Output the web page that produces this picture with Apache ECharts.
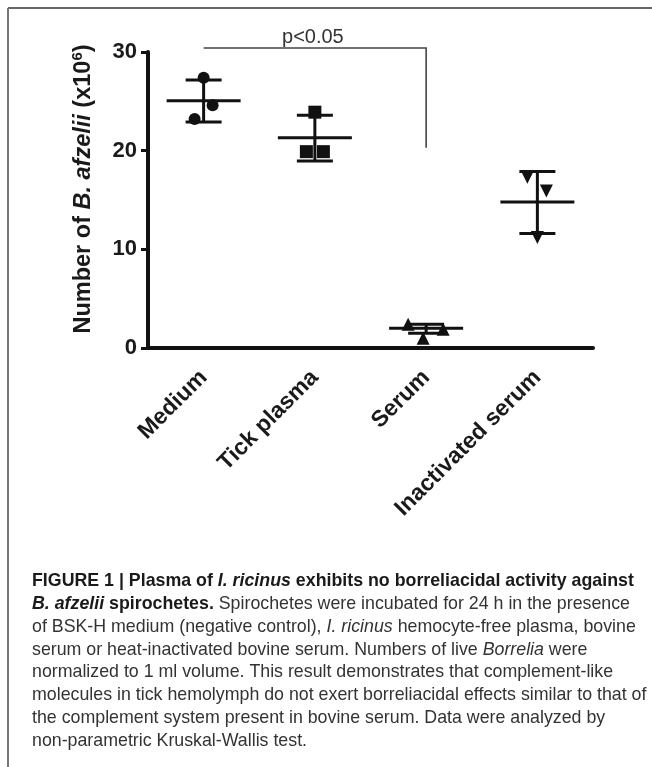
<!DOCTYPE html>
<html>
<head>
<meta charset="utf-8">
<script src="https://cdn.jsdelivr.net/npm/echarts@6/dist/echarts.min.js"></script>
<style>
html,body{margin:0;padding:0;background:#fff;}
#chart{width:652px;height:767px;}
</style>
</head>
<body>
<div id="chart"></div>
<script>
// ---- data ----
const categories = ['Medium', 'Tick plasma', 'Serum', 'Inactivated serum'];
const mediumValues = [27.4, 24.6, 23.2];
const tickPlasmaValues = [23.9, 19.9, 19.9];
const serumValues = [2.4, 1.9, 1.0];
const inactivatedValues = [17.3, 15.9, 11.2];
const groupMeans = [25.05, 21.3, 2.0, 14.8];
const groupLower = [22.9, 18.95, 1.5, 11.6];
const groupUpper = [27.15, 23.6, 2.4, 17.9];
const yTickValues = [0, 10, 20, 30];
const bracketFrom = 0, bracketTo = 2;
const bracketTop = 30.4, bracketEnd = 20.3, bracketLabelY = 31.5;
const pLabel = 'p<0.05';

// ---- layout / style ----
const FONT = "'Liberation Sans', Arial, Helvetica, sans-serif";
const jitterPx = [[0, 9, -9], [0, -8.5, 8.5], [-18, 17, -3], [-10, 9, 0]];
const groupValues = [mediumValues, tickPlasmaValues, serumValues, inactivatedValues];
const symbols = [
  {symbol: 'circle', size: 12, rotate: 0},
  {symbol: 'rect', size: 13, rotate: 0},
  {symbol: 'triangle', size: 13, rotate: 0},
  {symbol: 'triangle', size: 13, rotate: 180}
];

const scatterSeries = groupValues.map((vals, g) => ({
  type: 'scatter',
  symbol: symbols[g].symbol,
  symbolSize: symbols[g].size,
  symbolRotate: symbols[g].rotate,
  itemStyle: {color: '#111', opacity: 1},
  z: 3,
  silent: true,
  data: vals.map((v, j) => ({value: [g, v], symbolOffset: [jitterPx[g][j], 0]}))
}));

const errorData = categories.map((c, i) => [i, groupMeans[i], groupLower[i], groupUpper[i]]);

const errorSeries = {
  type: 'custom',
  z: 4,
  silent: true,
  data: errorData,
  renderItem: function (params, api) {
    const x = api.value(0);
    const m = api.coord([x, api.value(1)]);
    const lo = api.coord([x, api.value(2)]);
    const hi = api.coord([x, api.value(3)]);
    const st = {stroke: '#111', lineWidth: 3};
    return {
      type: 'group',
      children: [
        {type: 'line', shape: {x1: lo[0], y1: lo[1], x2: hi[0], y2: hi[1]}, style: st},
        {type: 'line', shape: {x1: hi[0] - 18, y1: hi[1], x2: hi[0] + 18, y2: hi[1]}, style: st},
        {type: 'line', shape: {x1: lo[0] - 18, y1: lo[1], x2: lo[0] + 18, y2: lo[1]}, style: st},
        {type: 'line', shape: {x1: m[0] - 37, y1: m[1], x2: m[0] + 37, y2: m[1]}, style: st}
      ]
    };
  }
};

const bracketSeries = {
  type: 'custom',
  z: 2,
  silent: true,
  clip: false,
  data: [[bracketFrom, bracketTo, bracketTop, bracketEnd, bracketLabelY]],
  renderItem: function (params, api) {
    const a = api.coord([api.value(0), api.value(2)]);
    const b = api.coord([api.value(1), api.value(2)]);
    const c = api.coord([api.value(1), api.value(3)]);
    const t = api.coord([(api.value(0) + api.value(1)) / 2, api.value(4)]);
    return {
      type: 'group',
      children: [
        {type: 'polyline', shape: {points: [a, b, c]}, style: {stroke: '#444', lineWidth: 1.6, fill: 'none'}},
        {type: 'text', x: t[0] - 2, y: t[1], style: {text: pLabel, fill: '#333', font: '20px ' + FONT, align: 'center', verticalAlign: 'middle'}}
      ]
    };
  }
};

const captionLines = [
  '{b|FIGURE 1 | Plasma of }{bi|I. ricinus}{b| exhibits no borreliacidal activity against}',
  '{bi|B. afzelii}{b| spirochetes.}{r| Spirochetes were incubated for 24 h in the presence}',
  '{r|of BSK-H medium (negative control), }{i|I. ricinus}{r| hemocyte-free plasma, bovine}',
  '{r|serum or heat-inactivated bovine serum. Numbers of live }{i|Borrelia}{r| were}',
  '{r|normalized to 1 ml volume. This result demonstrates that complement-like}',
  '{r|molecules in tick hemolymph do not exert borreliacidal effects similar to that of}',
  '{r|the complement system present in bovine serum. Data were analyzed by}',
  '{r|non-parametric Kruskal-Wallis test.}'
];
const CAP = 17.8;
const capRich = {
  b: {fontFamily: FONT, fontSize: CAP, fontWeight: 'bold', fill: '#1a1a1a'},
  bi: {fontFamily: FONT, fontSize: CAP, fontWeight: 'bold', fontStyle: 'italic', fill: '#1a1a1a'},
  r: {fontFamily: FONT, fontSize: CAP, fill: '#333'},
  i: {fontFamily: FONT, fontSize: CAP, fontStyle: 'italic', fill: '#333'}
};
const captionGraphics = captionLines.map((ln, k) => ({
  type: 'text',
  left: 32,
  top: 572 + k * 22.9,
  style: {text: ln, rich: capRich, verticalAlign: 'top'}
}));

const chart = echarts.init(document.getElementById('chart'), null, {renderer: 'canvas'});
chart.setOption({
  backgroundColor: '#fff',
  animation: false,
  grid: {left: 148, right: 59, top: 52, bottom: 419, containLabel: false, outerBoundsMode: 'none'},
  xAxis: {
    type: 'category',
    data: categories,
    boundaryGap: true,
    axisLine: {show: true, lineStyle: {color: '#111', width: 4}},
    axisTick: {show: false},
    axisLabel: {rotate: 45, margin: 26, fontFamily: FONT, fontSize: 23, fontWeight: 'bold', color: '#1a1a1a', interval: 0},
    splitLine: {show: false}
  },
  yAxis: {
    type: 'value',
    min: yTickValues[0],
    max: yTickValues[yTickValues.length - 1],
    interval: yTickValues[1] - yTickValues[0],
    axisLine: {show: true, lineStyle: {color: '#111', width: 4}},
    axisTick: {show: true, length: 7, lineStyle: {color: '#111', width: 3}},
    axisLabel: {margin: 11, fontFamily: FONT, fontSize: 22, fontWeight: 'bold', color: '#1a1a1a'},
    splitLine: {show: false},
    name: '{b|Number of }{bi|B. afzelii}{b| (x10}{sup|6}{b|)}',
    nameLocation: 'middle',
    nameRotate: 90,
    nameGap: 50,
    nameTextStyle: {
      padding: [0, 0, 0, 22],
      rich: {
        b: {fontFamily: FONT, fontSize: 23.5, fontWeight: 'bold', color: '#1a1a1a', lineHeight: 28},
        bi: {fontFamily: FONT, fontSize: 23.5, fontWeight: 'bold', fontStyle: 'italic', color: '#1a1a1a', lineHeight: 28},
        sup: {fontFamily: FONT, fontSize: 15, fontWeight: 'bold', color: '#1a1a1a', verticalAlign: 'top', lineHeight: 15}
      }
    }
  },
  graphic: [
    {type: 'line', shape: {x1: 8, y1: 8, x2: 652, y2: 8}, style: {stroke: '#666', lineWidth: 2}},
    {type: 'line', shape: {x1: 8, y1: 8, x2: 8, y2: 767}, style: {stroke: '#777', lineWidth: 2}}
  ].concat(captionGraphics),
  series: scatterSeries.concat([errorSeries, bracketSeries])
});
</script>
</body>
</html>
